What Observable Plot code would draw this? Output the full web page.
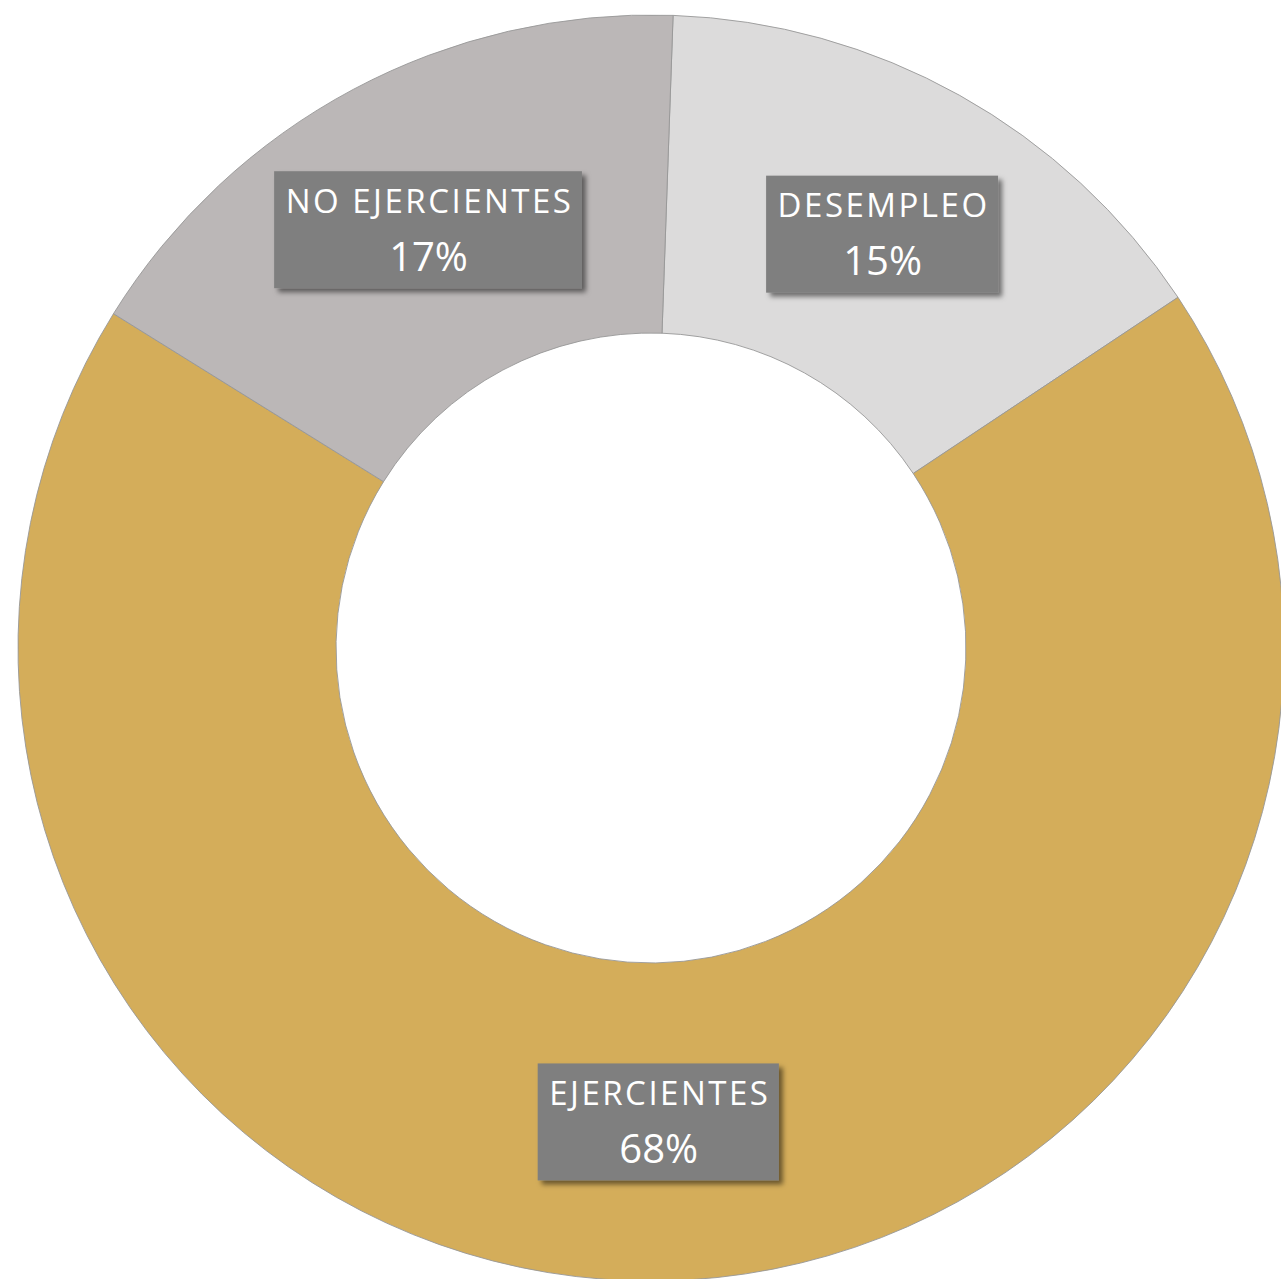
<!DOCTYPE html>
<html>
<head>
<meta charset="utf-8">
<script src="https://cdn.jsdelivr.net/npm/d3@7"></script>
<script src="https://cdn.jsdelivr.net/npm/@observablehq/plot@0.6"></script>
<style>
  html, body { margin: 0; padding: 0; background: #ffffff; }
  #chart svg { display: block; }
  g[font-size="33"] { letter-spacing: 2.5px; }
</style>
</head>
<body>
<div id="chart"></div>
<script>
// ---- data ----
const categories = ["DESEMPLEO", "EJERCIENTES", "NO EJERCIENTES"];
const shares = [15.1, 68.2, 16.7];
const shareLabels = ["15%", "68%", "17%"];  // as printed on the chart
const colors = ["#dcdbdb", "#d4ad5a", "#bbb7b7"];

// ---- layout constants ----
const W = 1281, H = 1279;
const startAngle = 2 * Math.PI / 180;
const innerRatio = 0.4976;
const labelRadius = (1 + innerRatio) / 2;

const pie = d3.pie().sort(null).value(d => d).startAngle(startAngle).endAngle(startAngle + 2 * Math.PI)(shares);
const rows = categories.map((c, i) => ({
  category: c,
  share: shares[i],
  label: shareLabels[i],
  a0: pie[i].startAngle,
  a1: pie[i].endAngle,
  mid: (pie[i].startAngle + pie[i].endAngle) / 2
}));

const color = Plot.scale({color: {type: "ordinal", domain: categories, range: colors}});

const canvas = document.createElement("canvas");
const ctx2d = canvas.getContext("2d");
function measure(text, size, spacing) {
  ctx2d.font = `${size}px "Open Sans"`;
  return ctx2d.measureText(text).width + spacing * text.length;
}
const boxWidth = d => Math.max(measure(d.category, 33, 2.5), measure(d.label, 40, 0)) + 20;

function wedges(index, scales) {
  const cx = scales.x(0), cy = scales.y(0);
  const R = scales.x(1) - scales.x(0);
  const arc = d3.arc().innerRadius(R * innerRatio).outerRadius(R);
  const g = d3.create("svg:g").attr("transform", `translate(${cx},${cy})`);
  g.selectAll("path").data(rows).join("path")
    .attr("d", d => arc({startAngle: d.a0, endAngle: d.a1}))
    .attr("fill", d => color.apply(d.category))
    .attr("stroke", "#979797")
    .attr("stroke-width", 0.9);
  return g.node();
}

function boxes(index, scales) {
  const g = d3.create("svg:g");
  const defs = g.append("defs");
  const f = defs.append("filter").attr("id", "shadow").attr("x", "-10%").attr("y", "-10%").attr("width", "130%").attr("height", "130%");
  f.append("feDropShadow").attr("dx", 4).attr("dy", 4).attr("stdDeviation", 2.5)
    .attr("flood-color", "#000").attr("flood-opacity", 0.5);
  g.selectAll("rect").data(rows).join("rect")
    .attr("x", d => scales.x(labelRadius * Math.sin(d.mid)) - boxWidth(d) / 2)
    .attr("y", d => scales.y(labelRadius * Math.cos(d.mid)) - 58.5)
    .attr("width", boxWidth)
    .attr("height", 117)
    .attr("fill", "#7f7f7f")
    .attr("filter", "url(#shadow)");
  return g.node();
}

const lx = d => labelRadius * Math.sin(d.mid);
const ly = d => labelRadius * Math.cos(d.mid);

const chart = Plot.plot({
  width: W,
  height: H,
  margin: 0,
  style: {fontFamily: "'Open Sans', sans-serif", background: "#ffffff", overflow: "hidden"},
  x: {domain: [-1, 1], range: [18, 1284], axis: null},
  y: {domain: [-1, 1], range: [1281, 15], axis: null},
  marks: [
    wedges,
    boxes,
    Plot.text(rows, {x: lx, y: ly, text: "category", fill: "#ffffff", fontSize: 33, dy: -28, dx: 1}),
    Plot.text(rows, {x: lx, y: ly, text: "label", fill: "#ffffff", fontSize: 40, dy: 28})
  ]
});
document.getElementById("chart").appendChild(chart);
</script>
</body>
</html>
